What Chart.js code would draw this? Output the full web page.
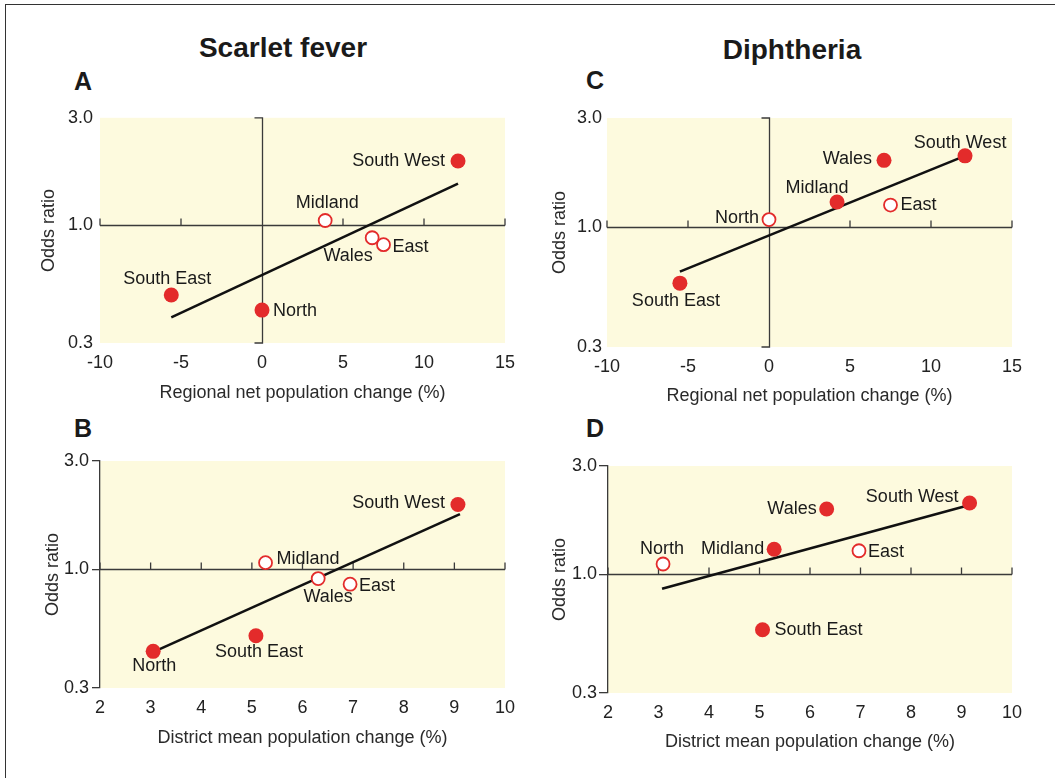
<!DOCTYPE html>
<html>
<head>
<meta charset="utf-8">
<script src="https://cdn.jsdelivr.net/npm/chart.js@4.4.1/dist/chart.umd.min.js"></script>
<style>
body{margin:0;background:#fff;width:1055px;height:778px;overflow:hidden;position:relative;font-family:"Liberation Sans",Arial,sans-serif;color:#1a1a1a}
.frame{position:absolute;left:5px;top:4px;width:1100px;height:900px;border-left:1.5px solid #333;border-top:1.5px solid #333}
.t{position:absolute;font-weight:bold;white-space:nowrap;line-height:1;transform:translate(-50%,-50%)}
.panel{position:absolute}
</style>
</head>
<body>
<div class="frame"></div>
<div class="t" style="left:283px;top:48px;font-size:28px">Scarlet fever</div>
<div class="t" style="left:792px;top:50px;font-size:28px">Diphtheria</div>
<div class="t" style="left:83px;top:81px;font-size:25px">A</div>
<div class="t" style="left:595px;top:80px;font-size:25px">C</div>
<div class="t" style="left:83px;top:428px;font-size:25px">B</div>
<div class="t" style="left:595px;top:428px;font-size:25px">D</div>

<div class="panel" style="left:30px;top:100px;width:500px;height:310px"><canvas id="chartA"></canvas></div>
<div class="panel" style="left:30px;top:440px;width:500px;height:320px"><canvas id="chartB"></canvas></div>
<div class="panel" style="left:540px;top:100px;width:500px;height:310px"><canvas id="chartC"></canvas></div>
<div class="panel" style="left:540px;top:440px;width:500px;height:320px"><canvas id="chartD"></canvas></div>

<script>
// regions, same order in every panel
const regions = ['South West', 'Midland', 'Wales', 'East', 'South East', 'North'];

// A: scarlet fever vs regional net population change
const sfRegionalX = [12.1, 3.9, 6.8, 7.5, -5.6, 0.0];
const sfRegionalOR = [1.93, 1.05, 0.88, 0.82, 0.49, 0.42];
const sfRegionalOpen = [false, true, true, true, false, false];
const sfRegionalFitX = [-5.6, 12.1];
const sfRegionalFitOR = [0.39, 1.53];

// B: scarlet fever vs district mean population change
const sfDistrictX = [9.07, 5.27, 6.31, 6.94, 5.08, 3.05];
const sfDistrictOR = [1.93, 1.07, 0.91, 0.86, 0.51, 0.435];
const sfDistrictOpen = [false, true, true, true, false, false];
const sfDistrictFitX = [3.08, 9.11];
const sfDistrictFitOR = [0.435, 1.75];

// C: diphtheria vs regional net population change
const dipRegionalX = [12.1, 4.2, 7.1, 7.5, -5.5, 0.0];
const dipRegionalOR = [2.05, 1.29, 1.96, 1.25, 0.57, 1.08];
const dipRegionalOpen = [false, false, false, true, false, true];
const dipRegionalFitX = [-5.5, 12.1];
const dipRegionalFitOR = [0.64, 2.05];

// D: diphtheria vs district mean population change
const dipDistrictX = [9.16, 5.29, 6.33, 6.97, 5.06, 3.09];
const dipDistrictOR = [2.06, 1.29, 1.94, 1.27, 0.57, 1.11];
const dipDistrictOpen = [false, false, false, true, false, true];
const dipDistrictFitX = [3.07, 9.16];
const dipDistrictFitOR = [0.863, 2.02];

// ticks
const regionalTicks = [-10, -5, 0, 5, 10, 15];
const districtTicks = [2, 3, 4, 5, 6, 7, 8, 9, 10];
const oddsTicks = [0.3, 1.0, 3.0];

const regionalTitle = 'Regional net population change (%)';
const districtTitle = 'District mean population change (%)';

const FONT = '"Liberation Sans", Arial, sans-serif';
const RED = '#e32b2b';
const AXIS = '#3a3a3a';

// where each name sits next to its point (pixels)
const placeA = {
    'South West': { align: 'right', dx: -13, dy: 0 },
    'Midland': { align: 'center', dx: 2, dy: -17 },
    'Wales': { align: 'center', dx: -24, dy: 18 },
    'East': { align: 'left', dx: 9, dy: 2 },
    'South East': { align: 'center', dx: -4, dy: -16 },
    'North': { align: 'left', dx: 11, dy: 1 }
};
const placeB = {
    'South West': { align: 'right', dx: -13, dy: -1 },
    'Midland': { align: 'left', dx: 11, dy: -4 },
    'Wales': { align: 'center', dx: 10, dy: 18 },
    'East': { align: 'left', dx: 9, dy: 2 },
    'South East': { align: 'center', dx: 3, dy: 16 },
    'North': { align: 'center', dx: 1, dy: 15 }
};
const placeC = {
    'South West': { align: 'center', dx: -5, dy: -13 },
    'Midland': { align: 'center', dx: -20, dy: -14 },
    'Wales': { align: 'right', dx: -12, dy: -1 },
    'East': { align: 'left', dx: 10, dy: 0 },
    'South East': { align: 'center', dx: -4, dy: 18 },
    'North': { align: 'right', dx: -10, dy: -2 }
};
const placeD = {
    'South West': { align: 'right', dx: -11, dy: -6 },
    'Midland': { align: 'right', dx: -10, dy: 0 },
    'Wales': { align: 'right', dx: -10, dy: 0 },
    'East': { align: 'left', dx: 9, dy: 1 },
    'South East': { align: 'left', dx: 12, dy: 0 },
    'North': { align: 'center', dx: -1, dy: -15 }
};

const backdrop = {
    id: 'backdrop',
    beforeDraw(chart) {
        const { ctx, chartArea: a } = chart;
        ctx.save();
        ctx.fillStyle = '#fdfade';
        ctx.fillRect(a.left, a.top, a.right - a.left, a.bottom - a.top);
        ctx.restore();
    }
};

// the line at OR = 1 with upward ticks, and the x = 0 line when there is one
const crossAxes = {
    id: 'crossAxes',
    beforeDatasetsDraw(chart, args, opts) {
        const { ctx, chartArea: a, scales: { x, y } } = chart;
        const yOne = Math.round(y.getPixelForValue(1)) + 0.5;
        ctx.save();
        ctx.strokeStyle = AXIS;
        ctx.lineWidth = 1.3;
        ctx.beginPath();
        ctx.moveTo(a.left, yOne);
        ctx.lineTo(a.right, yOne);
        x.ticks.forEach(t => {
            if (t.value === opts.vAt) return;
            const px = x.getPixelForValue(t.value);
            ctx.moveTo(px, yOne);
            ctx.lineTo(px, yOne - 7);
        });
        if (opts.vAt !== null) {
            const px = Math.round(x.getPixelForValue(opts.vAt)) + 0.5;
            ctx.moveTo(px - 8, a.top);
            ctx.lineTo(px, a.top);
            ctx.lineTo(px, a.bottom);
            ctx.lineTo(px - 8, a.bottom);
        }
        ctx.stroke();
        ctx.restore();
    }
};

const pointNames = {
    id: 'pointNames',
    afterDatasetsDraw(chart, args, opts) {
        const { ctx } = chart;
        ctx.save();
        ctx.font = '18px ' + FONT;
        ctx.fillStyle = '#1a1a1a';
        ctx.textBaseline = 'middle';
        chart.data.datasets.forEach((ds, di) => {
            if (!ds.named) return;
            chart.getDatasetMeta(di).data.forEach((el, i) => {
                const name = ds.data[i].name;
                const p = opts.place[name];
                ctx.textAlign = p.align;
                ctx.fillText(name, el.x + p.dx, el.y + p.dy);
            });
        });
        ctx.restore();
    }
};

function makePanel(id, xs, ys, open, fitX, fitY, xTicks, xTitle, place, lay) {
    const pts = regions.map((name, i) => ({ x: xs[i], y: ys[i], name: name, open: open[i] }));
    const fit = fitX.map((v, i) => ({ x: v, y: fitY[i] }));
    new Chart(document.getElementById(id), {
        type: 'scatter',
        data: {
            datasets: [
                {
                    data: pts.filter(p => !p.open),
                    named: true,
                    pointRadius: 7.5,
                    pointBackgroundColor: RED,
                    pointBorderColor: RED,
                    pointBorderWidth: 0
                },
                {
                    data: pts.filter(p => p.open),
                    named: true,
                    pointRadius: 6.5,
                    pointBackgroundColor: '#ffffff',
                    pointBorderColor: RED,
                    pointBorderWidth: 1.8
                },
                {
                    data: fit,
                    showLine: true,
                    borderColor: '#111111',
                    borderWidth: 2.6,
                    pointRadius: 0
                }
            ]
        },
        options: {
            responsive: true,
            maintainAspectRatio: false,
            animation: false,
            events: [],
            layout: { padding: { top: lay.top, right: lay.right, left: 0, bottom: 0 } },
            scales: {
                x: {
                    type: 'linear',
                    min: xTicks[0],
                    max: xTicks[xTicks.length - 1],
                    afterBuildTicks: s => { s.ticks = xTicks.map(v => ({ value: v })); },
                    afterFit: s => { s.height = lay.xHeight; },
                    grid: { display: false, drawTicks: false },
                    border: { display: false },
                    ticks: {
                        padding: 9,
                        color: '#222',
                        font: { family: FONT, size: 18 },
                        callback: v => String(v)
                    },
                    title: {
                        display: true,
                        text: xTitle,
                        color: '#2a2a2a',
                        font: { family: FONT, size: 18 },
                        padding: { top: 0, bottom: lay.xTitlePad }
                    }
                },
                y: {
                    type: 'logarithmic',
                    min: 0.3,
                    max: 3,
                    afterBuildTicks: s => { s.ticks = oddsTicks.map(v => ({ value: v })); },
                    afterFit: s => { s.width = lay.yWidth; },
                    grid: {
                        drawOnChartArea: false,
                        drawTicks: lay.yBorder,
                        tickLength: lay.yTick,
                        color: AXIS,
                        lineWidth: 1.3
                    },
                    border: { display: lay.yBorder, color: AXIS, width: 1.3 },
                    ticks: {
                        padding: lay.yTickPad,
                        color: '#222',
                        font: { family: FONT, size: 18 },
                        callback: v => Number(v).toFixed(1)
                    },
                    title: {
                        display: true,
                        text: 'Odds ratio',
                        color: '#2a2a2a',
                        font: { family: FONT, size: 18 },
                        padding: { top: lay.yTitlePad, bottom: 0 }
                    }
                }
            },
            plugins: {
                legend: { display: false },
                tooltip: { enabled: false },
                crossAxes: { vAt: lay.vAt },
                pointNames: { place: place }
            }
        },
        plugins: [backdrop, crossAxes, pointNames]
    });
}

makePanel('chartA', sfRegionalX, sfRegionalOR, sfRegionalOpen, sfRegionalFitX, sfRegionalFitOR,
    regionalTicks, regionalTitle, placeA,
    { top: 17, right: 25, yWidth: 70, xHeight: 67, xTitlePad: 6, yTitlePad: 8, yTickPad: 7, yTick: 0, yBorder: false, vAt: 0 });
makePanel('chartB', sfDistrictX, sfDistrictOR, sfDistrictOpen, sfDistrictFitX, sfDistrictFitOR,
    districtTicks, districtTitle, placeB,
    { top: 21, right: 25, yWidth: 70, xHeight: 72, xTitlePad: 11, yTitlePad: 12, yTickPad: 3, yTick: 8, yBorder: true, vAt: null });
makePanel('chartC', dipRegionalX, dipRegionalOR, dipRegionalOpen, dipRegionalFitX, dipRegionalFitOR,
    regionalTicks, regionalTitle, placeC,
    { top: 18, right: 28, yWidth: 67, xHeight: 63, xTitlePad: 3, yTitlePad: 9, yTickPad: 5, yTick: 0, yBorder: false, vAt: 0 });
makePanel('chartD', dipDistrictX, dipDistrictOR, dipDistrictOpen, dipDistrictFitX, dipDistrictFitOR,
    districtTicks, districtTitle, placeD,
    { top: 26, right: 28, yWidth: 68, xHeight: 67, xTitlePad: 7, yTitlePad: 9, yTickPad: 2, yTick: 9, yBorder: true, vAt: null });
</script>
</body>
</html>
